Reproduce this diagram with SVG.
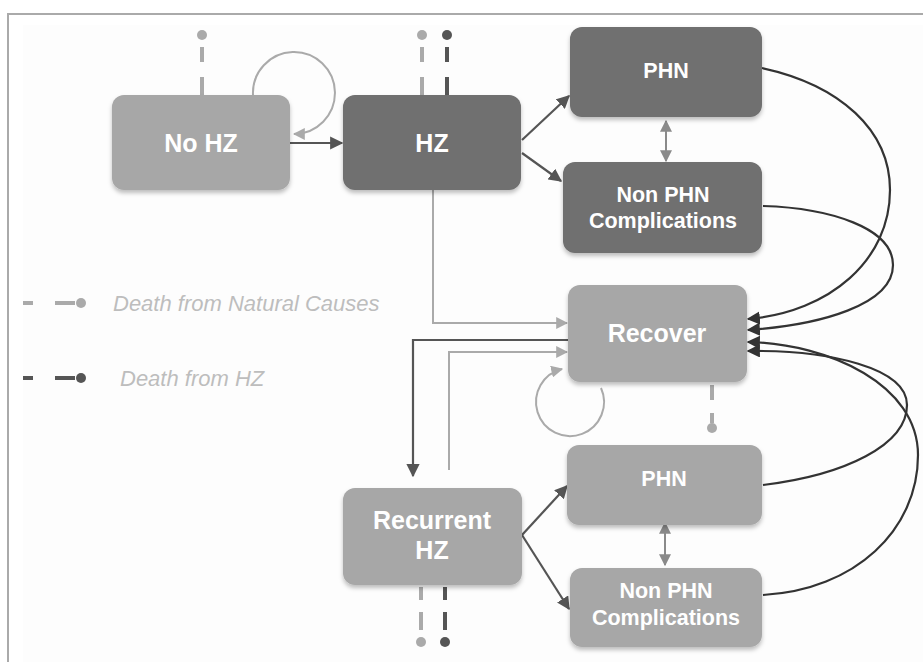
<svg xmlns="http://www.w3.org/2000/svg" width="923" height="662" viewBox="0 0 923 662">
<style>
.box{stroke:none;filter:url(#sh)}
.lt{fill:#a7a7a7}
.dk{fill:#6f6f6f}
.lbl{font-family:"Liberation Sans",Arial,sans-serif;font-weight:bold;fill:#ffffff;text-anchor:middle}
.big{font-size:25px}
.sm{font-size:21.5px}
.leg{font-family:"Liberation Sans",Arial,sans-serif;font-style:italic;font-size:22px;fill:#bdbdbd}
.cl{fill:none;stroke:#aaaaaa;stroke-width:2}
.cd{fill:none;stroke:#555555;stroke-width:2.2}
.cc{fill:none;stroke:#333333;stroke-width:2.2}
.cm{fill:none;stroke:#8a8a8a;stroke-width:2}
.dl{stroke:#aaaaaa;stroke-width:4}
.dd{stroke:#555555;stroke-width:4}
</style>
<defs>
<filter id="sh" x="-10%" y="-10%" width="120%" height="130%">
<feDropShadow dx="0" dy="3" stdDeviation="2" flood-color="#000" flood-opacity="0.25"/>
</filter>
<marker id="aL" viewBox="0 0 10 10" refX="9" refY="5" markerWidth="6" markerHeight="6" orient="auto-start-reverse" markerUnits="strokeWidth"><path d="M0,0 L10,5 L0,10 z" fill="#aaaaaa"/></marker>
<marker id="aD" viewBox="0 0 10 10" refX="9" refY="5" markerWidth="6" markerHeight="6" orient="auto-start-reverse" markerUnits="strokeWidth"><path d="M0,0 L10,5 L0,10 z" fill="#555555"/></marker>
<marker id="aC" viewBox="0 0 10 10" refX="9" refY="5" markerWidth="6" markerHeight="6" orient="auto-start-reverse" markerUnits="strokeWidth"><path d="M0,0 L10,5 L0,10 z" fill="#333333"/></marker>
<marker id="aM" viewBox="0 0 10 10" refX="9" refY="5" markerWidth="6" markerHeight="6" orient="auto-start-reverse" markerUnits="strokeWidth"><path d="M0,0 L10,5 L0,10 z" fill="#8a8a8a"/></marker>
</defs>
<rect x="0" y="0" width="923" height="662" fill="#ffffff"/>
<rect x="23" y="25" width="900" height="637" fill="#fdfdfd"/>
<path d="M8,662 L8,14 L923,14" fill="none" stroke="#aaaaaa" stroke-width="2"/>

<g id="connectors">
<path class="cd" d="M290,143 L342,143" marker-end="url(#aD)"/>
<path class="cl" d="M253,95 A41,41 0 1 1 294,134" marker-end="url(#aL)"/>
<path class="cd" d="M522,140 L569,96" marker-end="url(#aD)"/>
<path class="cd" d="M522,153 L561,181" marker-end="url(#aD)"/>
<path class="cm" d="M666,121 L666,161" marker-start="url(#aM)" marker-end="url(#aM)"/>
<path class="cc" d="M762,68 C840,85 890,130 890,190 C890,260 830,312 748,319" marker-end="url(#aC)"/>
<path class="cc" d="M763,206 C830,208 893,228 893,265 C893,305 820,325 748,330" marker-end="url(#aC)"/>
<path class="cc" d="M763,485 C845,475 907,445 907,405 C907,368 830,350 748,351" marker-end="url(#aC)"/>
<path class="cc" d="M763,595 C855,590 918,530 918,455 C918,385 830,344 748,342" marker-end="url(#aC)"/>
<path class="cl" d="M433,190 L433,323 L567,323" marker-end="url(#aL)"/>
<path class="cd" d="M568,340 L413,340 L413,476" marker-end="url(#aD)"/>
<path class="cl" d="M449,470 L449,352 L567,352" marker-end="url(#aL)"/>
<path class="cl" d="M601,388 A34,34 0 1 1 562,369" marker-end="url(#aL)"/>
<path class="cd" d="M522,535 L567,486" marker-end="url(#aD)"/>
<path class="cd" d="M522,535 L569,609" marker-end="url(#aD)"/>
<path class="cm" d="M665,523 L665,565" marker-start="url(#aM)" marker-end="url(#aM)"/>
<path class="dl" d="M202,47 L202,62 M202,77 L202,95"/>
<circle cx="202" cy="35" r="5" fill="#aaaaaa"/>
<path class="dl" d="M422,47 L422,62 M422,77 L422,95"/>
<circle cx="422" cy="35" r="5" fill="#aaaaaa"/>
<path class="dd" d="M447,47 L447,62 M447,77 L447,95"/>
<circle cx="447" cy="35" r="5" fill="#555555"/>
<path class="dl" d="M712,385 L712,400 M712,413 L712,423"/>
<circle cx="712" cy="428" r="5" fill="#aaaaaa"/>
<path class="dl" d="M421,587 L421,600 M421,612 L421,630"/>
<circle cx="421" cy="642" r="5" fill="#aaaaaa"/>
<path class="dd" d="M445,587 L445,600 M445,612 L445,630"/>
<circle cx="445" cy="642" r="5" fill="#555555"/>
</g>

<g id="legend">
<path class="dl" d="M23,303 L33,303 M55,303 L75,303"/>
<circle cx="81" cy="303" r="5" fill="#aaaaaa"/>
<text class="leg" x="113" y="311">Death from Natural Causes</text>
<path class="dd" d="M23,378 L33,378 M55,378 L75,378"/>
<circle cx="81" cy="378" r="5" fill="#555555"/>
<text class="leg" x="120" y="386">Death from HZ</text>
</g>

<g id="noHZ">
<rect class="box lt" x="112" y="95" width="178" height="95" rx="12"/>
<text class="lbl big" x="201" y="152">No HZ</text>
</g>
<g id="HZ">
<rect class="box dk" x="343" y="95" width="178" height="95" rx="12"/>
<text class="lbl big" x="432" y="152">HZ</text>
</g>
<g id="PHN1">
<rect class="box dk" x="570" y="27" width="192" height="90" rx="12"/>
<text class="lbl sm" x="666" y="78">PHN</text>
</g>
<g id="NonPHN1">
<rect class="box dk" x="563" y="162" width="199" height="91" rx="12"/>
<text class="lbl sm" x="663" y="202">Non PHN</text>
<text class="lbl sm" x="663" y="228">Complications</text>
</g>
<g id="Recover">
<rect class="box lt" x="568" y="285" width="179" height="97" rx="12"/>
<text class="lbl big" x="657" y="342">Recover</text>
</g>
<g id="RecurrentHZ">
<rect class="box lt" x="343" y="488" width="179" height="97" rx="12"/>
<text class="lbl big" x="432" y="529">Recurrent</text>
<text class="lbl big" x="432" y="559">HZ</text>
</g>
<g id="PHN2">
<rect class="box lt" x="567" y="445" width="195" height="80" rx="12"/>
<text class="lbl sm" x="664" y="486">PHN</text>
</g>
<g id="NonPHN2">
<rect class="box lt" x="570" y="568" width="192" height="79" rx="12"/>
<text class="lbl sm" x="666" y="598">Non PHN</text>
<text class="lbl sm" x="666" y="625">Complications</text>
</g>
</svg>
